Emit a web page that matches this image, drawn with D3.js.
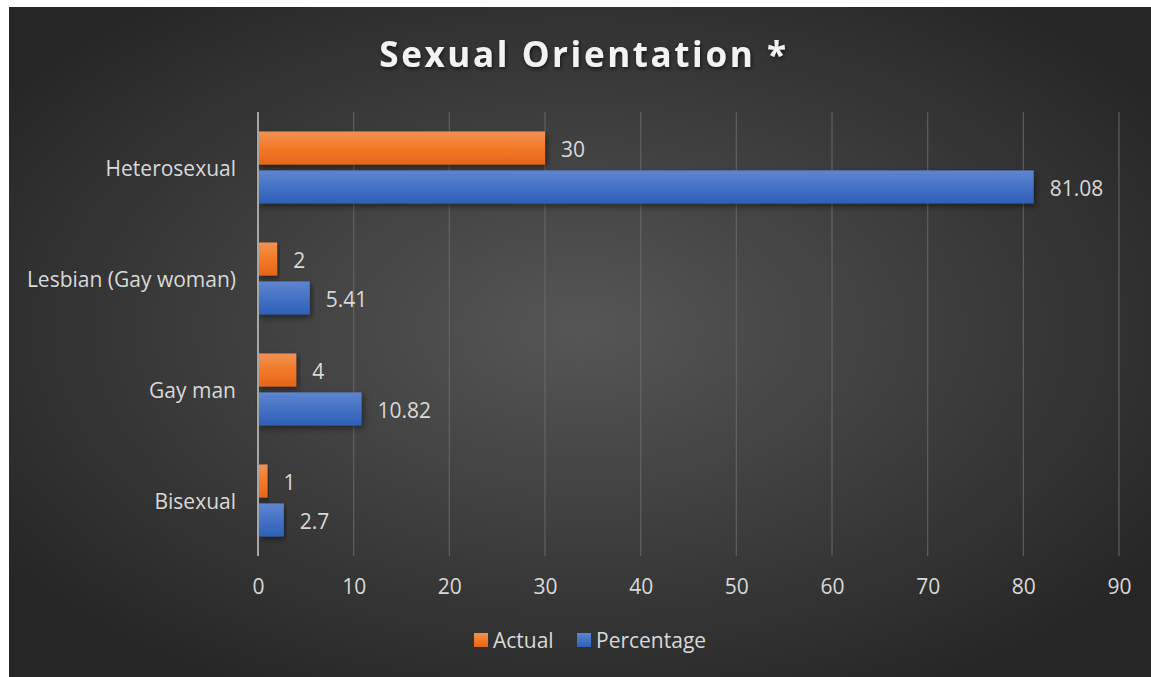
<!DOCTYPE html>
<html>
<head>
<meta charset="utf-8">
<script src="https://cdn.jsdelivr.net/npm/d3@7"></script>
<style>
  html, body { margin: 0; padding: 0; background: #ffffff; }
  svg { display: block; }
  text { font-family: "Open Sans", "Noto Sans", sans-serif; }
</style>
</head>
<body>
<svg id="chart" width="1151" height="677"></svg>
<script>
// Survey responses by sexual orientation
const categories = ["Heterosexual", "Lesbian (Gay woman)", "Gay man", "Bisexual"];
const actualValues = [30, 2, 4, 1];
const percentageValues = [81.08, 5.41, 10.82, 2.7];
const seriesNames = ["Actual", "Percentage"];
const xTicks = [0, 10, 20, 30, 40, 50, 60, 70, 80, 90];

const W = 1151, H = 677;
const FS = 21;
const svg = d3.select("#chart");
const defs = svg.append("defs");

// Dark radial backdrop
const bg = defs.append("radialGradient").attr("id", "bgGrad")
  .attr("cx", "50%").attr("cy", "48%").attr("r", "62%");
bg.append("stop").attr("offset", "0%").attr("stop-color", "#565656");
bg.append("stop").attr("offset", "100%").attr("stop-color", "#262626");

function barGrad(id, top, mid, bot) {
  const g = defs.append("linearGradient").attr("id", id)
    .attr("x1", 0).attr("y1", 0).attr("x2", 0).attr("y2", 1);
  g.append("stop").attr("offset", "0%").attr("stop-color", top);
  g.append("stop").attr("offset", "50%").attr("stop-color", mid);
  g.append("stop").attr("offset", "100%").attr("stop-color", bot);
}
barGrad("gradActual", "#f29155", "#f27a26", "#e5661b");
barGrad("gradPct", "#5f85d1", "#4472c4", "#2f5fb8");

const shadow = defs.append("filter").attr("id", "barShadow")
  .attr("x", "-5%").attr("y", "-30%").attr("width", "115%").attr("height", "180%");
shadow.append("feDropShadow").attr("dx", 2).attr("dy", 3).attr("stdDeviation", 3)
  .attr("flood-color", "#000").attr("flood-opacity", 0.45);

const titleShadow = defs.append("filter").attr("id", "titleShadow")
  .attr("x", "-10%").attr("y", "-30%").attr("width", "120%").attr("height", "170%");
titleShadow.append("feDropShadow").attr("dx", 1).attr("dy", 2).attr("stdDeviation", 2)
  .attr("flood-color", "#000").attr("flood-opacity", 0.6);

svg.append("rect").attr("x", 9).attr("y", 7).attr("width", W - 9).attr("height", H - 7)
  .attr("fill", "url(#bgGrad)");

// Title
svg.append("text")
  .attr("x", 584).attr("y", 67)
  .attr("text-anchor", "middle")
  .attr("fill", "#f2f2f2")
  .attr("font-size", 35).attr("font-weight", 700)
  .attr("letter-spacing", 2.6)
  .attr("filter", "url(#titleShadow)")
  .text("Sexual Orientation *");

// Scales
const margin = { left: 258, right: 1119, top: 112, bottom: 556 };
const x = d3.scaleLinear().domain([0, 90]).range([margin.left, margin.right]);
const y = d3.scaleBand().domain(categories).range([margin.top, margin.bottom]);
const inner = d3.scaleBand().domain(seriesNames)
  .range([0, y.bandwidth()]).paddingInner(0.15).paddingOuter(0.5);

// Vertical gridlines
svg.append("g").selectAll("line")
  .data(xTicks.filter(t => t > 0))
  .join("line")
  .attr("x1", d => x(d)).attr("x2", d => x(d))
  .attr("y1", margin.top).attr("y2", margin.bottom)
  .attr("stroke", "#6a6a6a").attr("stroke-width", 1.3).attr("stroke-opacity", 0.75);

// X axis labels
const xAxis = d3.axisBottom(x).tickValues(xTicks).tickSize(0).tickPadding(0);
const gx = svg.append("g").attr("transform", `translate(0,${margin.bottom})`).call(xAxis);
gx.select(".domain").remove();
gx.selectAll("text")
  .attr("dy", 0).attr("y", 38)
  .attr("fill", "#d9d9d9").attr("font-size", FS)
  .attr("font-family", '"Open Sans", sans-serif');

// Category labels
const yAxis = d3.axisLeft(y).tickSize(0).tickPadding(22);
const gy = svg.append("g").attr("transform", `translate(${margin.left},0)`).call(yAxis);
gy.select(".domain").remove();
gy.selectAll("text")
  .attr("dy", "0.42em")
  .attr("fill", "#d9d9d9").attr("font-size", FS)
  .attr("font-family", '"Open Sans", sans-serif');

// Bars
const rows = categories.map((c, i) => ({
  cat: c,
  items: [
    { s: "Actual", v: actualValues[i], fill: "url(#gradActual)" },
    { s: "Percentage", v: percentageValues[i], fill: "url(#gradPct)" }
  ]
}));

const groups = svg.append("g").selectAll("g")
  .data(rows).join("g")
  .attr("transform", d => `translate(0,${y(d.cat)})`);

groups.selectAll("rect")
  .data(d => d.items).join("rect")
  .attr("x", x(0))
  .attr("y", d => inner(d.s))
  .attr("width", d => x(d.v) - x(0))
  .attr("height", inner.bandwidth())
  .attr("fill", d => d.fill)
  .attr("filter", "url(#barShadow)");

groups.selectAll("text.val")
  .data(d => d.items).join("text")
  .attr("class", "val")
  .attr("x", d => x(d.v) + 16)
  .attr("y", d => inner(d.s) + inner.bandwidth() / 2)
  .attr("dy", "0.42em")
  .attr("fill", "#d9d9d9").attr("font-size", FS)
  .text(d => d.v);

// Zero axis line
svg.append("line")
  .attr("x1", x(0)).attr("x2", x(0))
  .attr("y1", margin.top).attr("y2", margin.bottom)
  .attr("stroke", "#a6a6a6").attr("stroke-width", 2);

// Legend
const legendItems = [
  { name: "Actual", fill: "url(#gradActual)", x: 474 },
  { name: "Percentage", fill: "url(#gradPct)", x: 577 }
];
const lg = svg.append("g").selectAll("g").data(legendItems).join("g")
  .attr("transform", d => `translate(${d.x},633)`);
lg.append("rect").attr("width", 14).attr("height", 14).attr("fill", d => d.fill);
lg.append("text").attr("x", 19).attr("y", 7).attr("dy", "0.4em")
  .attr("fill", "#d9d9d9").attr("font-size", FS).text(d => d.name);
</script>
</body>
</html>
